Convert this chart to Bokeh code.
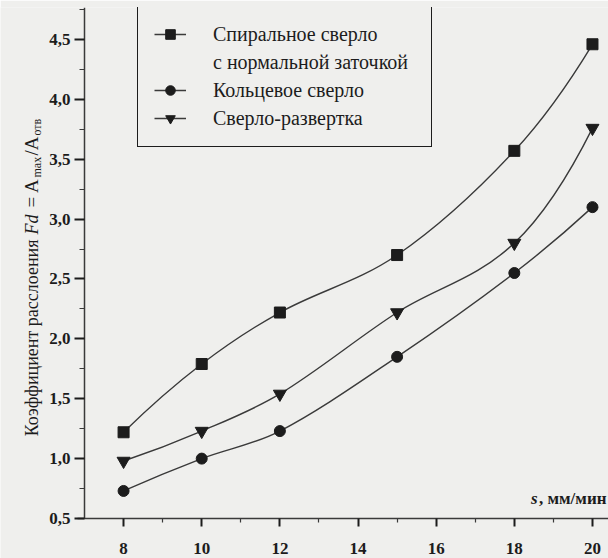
import numpy as np
from bokeh.plotting import figure
from bokeh.models import Range1d, FixedTicker, Legend, LegendItem, Label, ColumnDataSource
from bokeh.embed import file_html
from bokeh.resources import INLINE

# ---- data ----
speed = [8, 10, 12, 15, 18, 20]
fd_twist = [1.22, 1.79, 2.22, 2.70, 3.57, 4.46]
fd_core = [0.73, 1.00, 1.23, 1.85, 2.55, 3.10]
fd_ream = [0.98, 1.23, 1.54, 2.22, 2.80, 3.76]

name_twist_1 = "Спиральное сверло"
name_twist_2 = "с нормальной заточкой"
name_core = "Кольцевое сверло"
name_ream = "Сверло-развертка"

x_ticks = [8, 10, 12, 14, 16, 18, 20]
x_labels = ["8", "10", "12", "14", "16", "18", "20"]
y_ticks = [0.5, 1.0, 1.5, 2.0, 2.5, 3.0, 3.5, 4.0, 4.5]
y_labels = ["0,5", "1,0", "1,5", "2,0", "2,5", "3,0", "3,5", "4,0", "4,5"]

x_unit_s = "s"
x_unit_rest = ", мм/мин"
y_title_main = "Коэффициент расслоения"
y_title_fd = "Fd"
y_title_eq = "= A"
y_title_sub1 = "max"
y_title_div = "/A"
y_title_sub2 = "отв"

BG = "#efefed"
INK = "#1c1c1c"
LINE = "#3a3a3a"
SERIF = "Liberation Serif"

W, H = 608, 558
LEFT_PX = 84             # where the y axis sits
TOP_PX, AXIS_BOTTOM_PX = 7, 40
X0, X1 = 7, 20.41        # x at the y axis, x at the right edge
Y0, Y1 = 0.5, 4.767      # y at the x axis, y at the top
XPX = (W - LEFT_PX) / (X1 - X0)
YPX = (H - TOP_PX - AXIS_BOTTOM_PX) / (Y1 - Y0)
XL = X0 - LEFT_PX / XPX
YB = Y0 - AXIS_BOTTOM_PX / YPX

p = figure(width=W, height=H, x_range=Range1d(XL, X1), y_range=Range1d(YB, Y1),
           output_backend="svg", toolbar_location=None,
           min_border_left=0, min_border_right=0, min_border_top=TOP_PX, min_border_bottom=0)
p.background_fill_color = BG
p.border_fill_color = BG
p.outline_line_color = None
p.xgrid.visible = False
p.ygrid.visible = False


def smooth_segments(xs, ys):
    x = np.asarray(xs, float)
    y = np.asarray(ys, float)
    n = len(x)
    m = np.empty(n)
    m[1:-1] = (y[2:] - y[:-2]) / (x[2:] - x[:-2])
    m[0] = 2 * (y[1] - y[0]) / (x[1] - x[0]) - m[1]
    m[-1] = 2 * (y[-1] - y[-2]) / (x[-1] - x[-2]) - m[-2]
    h = x[1:] - x[:-1]
    return dict(
        x0=x[:-1], y0=y[:-1], x1=x[1:], y1=y[1:],
        cx0=x[:-1] + h / 3, cy0=y[:-1] + m[:-1] * h / 3,
        cx1=x[1:] - h / 3, cy1=y[1:] - m[1:] * h / 3,
    )


renderers = []
for ys, marker, size in [(fd_twist, "square", 11), (fd_core, "circle", 11), (fd_ream, "inverted_triangle", 13)]:
    seg = ColumnDataSource(smooth_segments(speed, ys))
    b = p.bezier(x0="x0", y0="y0", x1="x1", y1="y1", cx0="cx0", cy0="cy0", cx1="cx1", cy1="cy1",
                 source=seg, line_color=LINE, line_width=1.4)
    s = p.scatter(speed, ys, marker=marker, size=size, fill_color=INK, line_color=INK)
    renderers.append((b, s))

dummy = p.scatter(x=[], y=[], alpha=0)

LEG_PAD, LEG_ROW, LEG_SP = 16, 24, 4
LEG_H = 2 * LEG_PAD + 4 * LEG_ROW + 3 * LEG_SP
FRAME_H = H - TOP_PX
legend = Legend(items=[
    LegendItem(label=name_twist_1, renderers=list(renderers[0])),
    LegendItem(label=name_twist_2, renderers=[dummy]),
    LegendItem(label=name_core, renderers=list(renderers[1])),
    LegendItem(label=name_ream, renderers=list(renderers[2])),
], location=(137, FRAME_H - LEG_H))
legend.padding = LEG_PAD
legend.spacing = LEG_SP
legend.glyph_width = 32
legend.glyph_height = LEG_ROW
legend.label_height = LEG_ROW
legend.label_width = 202
legend.label_standoff = 27
legend.margin = 0
legend.label_text_font = SERIF
legend.label_text_font_size = "20px"
legend.label_text_color = INK
legend.border_line_color = INK
legend.border_line_width = 1.6
legend.border_line_alpha = 1.0
legend.background_fill_color = BG
legend.background_fill_alpha = 1.0
p.add_layout(legend)

# ---- axes (both pinned inside the frame) ----
xa = p.xaxis[0]
xa.fixed_location = Y0
xa.bounds = (X0 - 7 / XPX, X1)
xa.ticker = FixedTicker(ticks=x_ticks, minor_ticks=[t + 1 for t in x_ticks[:-1]])
xa.major_label_overrides = dict(zip(x_ticks, x_labels))
ya = p.yaxis[0]
ya.fixed_location = X0
ya.bounds = (Y0, Y1)
ya.ticker = FixedTicker(ticks=y_ticks, minor_ticks=[t + 0.25 for t in y_ticks])
ya.major_label_overrides = dict(zip(y_ticks, y_labels))
for ax in (xa, ya):
    ax.axis_line_color = LINE
    ax.axis_line_width = 1.5
    ax.major_tick_line_color = INK
    ax.major_tick_line_width = 2
    ax.minor_tick_line_color = LINE
    ax.minor_tick_line_width = 1.2
    ax.major_tick_in = 0
    ax.minor_tick_in = 0
    ax.major_label_text_font = SERIF
    ax.major_label_text_font_style = "bold"
    ax.major_label_text_color = INK
xa.major_tick_out = 8
xa.minor_tick_out = 4
xa.major_label_standoff = 16
xa.major_label_text_font_size = "17px"
ya.major_tick_out = 10
ya.minor_tick_out = 5
ya.major_label_standoff = 4
ya.major_label_text_font_size = "17px"

# ---- x unit label ----
p.add_layout(Label(x=X1, y=Y0, x_offset=-2, y_offset=20, text=x_unit_rest, text_align="right",
                   text_baseline="middle", text_font=SERIF, text_font_size="17px",
                   text_font_style="bold", text_color=INK))
p.add_layout(Label(x=X1, y=Y0, x_offset=-71, y_offset=20, text=x_unit_s, text_align="right",
                   text_baseline="middle", text_font=SERIF, text_font_size="17px",
                   text_font_style="bold italic", text_color=INK))

# ---- rotated y title, built from pieces, offset in pixels from the axis corner ----
ang = np.pi / 2
Q = 284
BX = -53
pieces = [
    (y_title_main, Q - 5, BX, "normal", "18px", "right"),
    (y_title_fd, Q, BX, "italic", "18px", "left"),
    (y_title_eq, Q + 27, BX, "normal", "19px", "left"),
    (y_title_sub1, Q + 57, BX + 5, "normal", "12px", "left"),
    (y_title_div, Q + 79, BX, "normal", "19px", "left"),
    (y_title_sub2, Q + 99, BX + 5, "normal", "12px", "left"),
]
for txt, yy, xx, style, fs, align in pieces:
    p.add_layout(Label(x=X0, y=Y0, x_offset=xx, y_offset=yy, text=txt, angle=ang,
                       text_align=align, text_baseline="alphabetic", text_font=SERIF,
                       text_font_size=fs, text_font_style=style, text_color=INK))

open("out.html", "w").write(file_html(p, INLINE))
